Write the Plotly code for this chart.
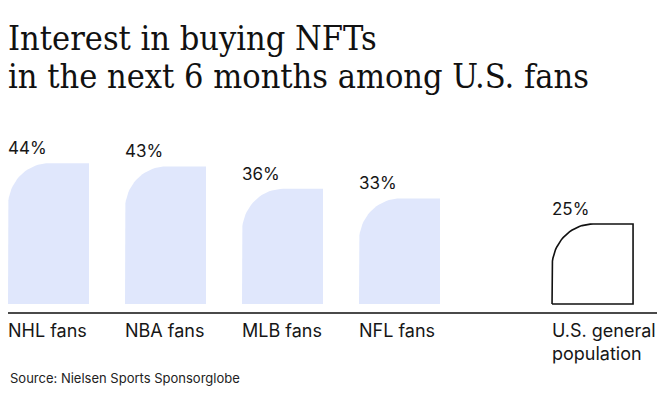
import numpy as np
import plotly.graph_objects as go

categories = ["NHL fans", "NBA fans", "MLB fans", "NFL fans", "U.S. general<br>population"]
values = [44, 43, 36, 33, 25]
value_labels = ["44%", "43%", "36%", "33%", "25%"]
title_lines = ["Interest in buying NFTs", "in the next 6 months among U.S. fans"]
source_text = "Source: Nielsen Sports Sponsorglobe"

# layout geometry
W, H = 660, 396
ML, MR, MT, MB = 8, 3, 120, 84
plot_w = W - ML - MR
plot_h = H - MT - MB
slot_px = 117
xpos = [0, 1, 2, 3, 4.65]
bar_w = 81 / slot_px
x_max = plot_w / slot_px
y_min, y_max = -2.5, 57.5
px_per_x = plot_w / x_max
px_per_y = plot_h / (y_max - y_min)
r_px = 41
rx = r_px / px_per_x
ry = (r_px + 2) / px_per_y

fill_color = "#e0e7fc"
text_color = "#161616"
sans = "Inter, Roboto, Noto Sans, sans-serif"
serif = "DejaVu Serif Condensed, DejaVu Serif, serif"


def paper_y(py):
    """Convert a pixel row (from top) to paper coordinates."""
    return (H - MB - py) / plot_h


fig = go.Figure()
theta = np.linspace(np.pi, np.pi / 2, 24)
for i, (x0, v) in enumerate(zip(xpos, values)):
    x1 = x0 + bar_w
    ax = list(x0 + rx + rx * np.cos(theta))
    ay = list(v - ry + ry * np.sin(theta))
    xs = [x0] + ax + [x1, x1, x0]
    ys = [0] + ay + [v, 0, 0]
    last = i == len(values) - 1
    fig.add_trace(go.Scatter(
        x=xs, y=ys, mode="lines", fill="toself",
        fillcolor="#ffffff" if last else fill_color,
        line=dict(color="#111111" if last else fill_color, width=1.6 if last else 0),
        hoverinfo="skip", showlegend=False,
    ))
    fig.add_annotation(
        x=x0, y=v, xref="x", yref="y", text=value_labels[i],
        xanchor="left", yanchor="bottom", showarrow=False, yshift=3, xshift=-2,
        font=dict(family=sans, size=17, color=text_color), align="left",
    )
    fig.add_annotation(
        x=x0, y=y_min, xref="x", yref="y", text=categories[i],
        xanchor="left", yanchor="top", showarrow=False, yshift=-6, xshift=-2,
        font=dict(family=sans, size=18, color=text_color), align="left",
    )

for j, line in enumerate(title_lines):
    fig.add_annotation(
        x=0, y=paper_y(16 + 38 * j), xref="paper", yref="paper",
        text=line, xanchor="left", yanchor="top", showarrow=False,
        xshift=-2, align="left",
        font=dict(family=serif, size=34, color="#111111"),
    )
fig.add_annotation(
    x=0, y=paper_y(368), xref="paper", yref="paper",
    text=source_text, xanchor="left", yanchor="top", showarrow=False, xshift=0,
    font=dict(family=sans, size=13, color="#222222"), align="left",
)

fig.update_layout(
    width=W, height=H,
    margin=dict(l=ML, r=MR, t=MT, b=MB, pad=0),
    paper_bgcolor="#ffffff", plot_bgcolor="#ffffff",
    xaxis=dict(range=[0, x_max], showgrid=False, zeroline=False, showticklabels=False,
               ticks="", showline=True, linecolor="#4a4a4a", linewidth=2, fixedrange=True),
    yaxis=dict(range=[y_min, y_max], showgrid=False, zeroline=False, showticklabels=False,
               ticks="", showline=False, fixedrange=True),
)

fig.write_html(
    "out.html",
    config={"displayModeBar": False},
    post_script="document.body.style.margin='0';document.body.style.padding='0';",
)
